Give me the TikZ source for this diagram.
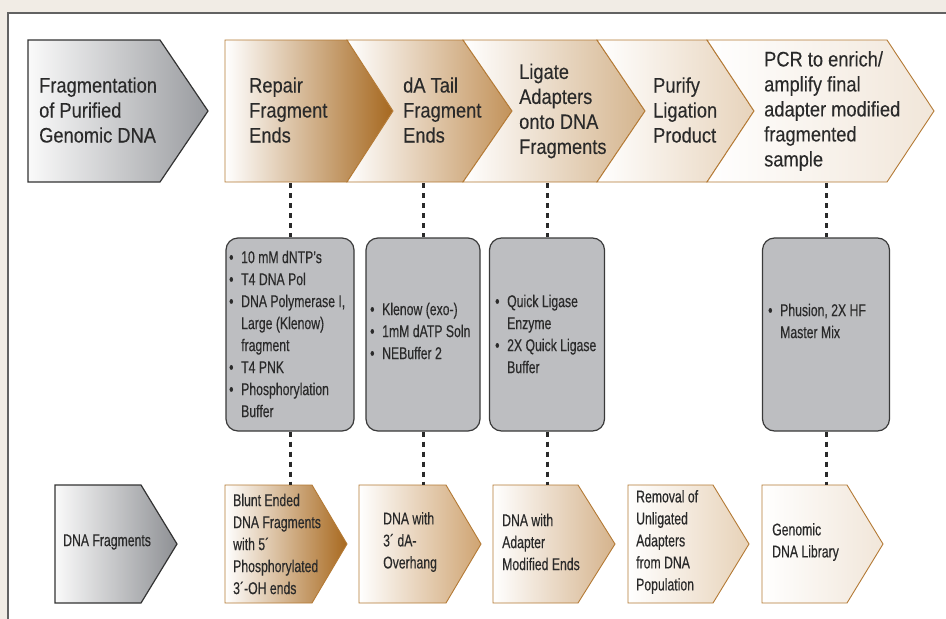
\documentclass[tikz,border=0pt]{standalone}
\usepackage{fontspec}
\setmainfont{Liberation Sans}
\newfontfamily\topfont[FakeStretch=0.87,FakeBold=0.15]{Liberation Sans}
\newfontfamily\smlfont[FakeStretch=0.72,FakeBold=0.3]{Liberation Sans}
\definecolor{bgbeige}{HTML}{F1ECE5}
\definecolor{framegray}{HTML}{626262}
\definecolor{chevline}{HTML}{B47A35}
\definecolor{gchevline}{HTML}{333333}
\definecolor{txt}{HTML}{2A2A2A}
\definecolor{boxfill}{HTML}{BDBEC1}
\definecolor{boxline}{HTML}{3A3A3A}
\definecolor{grayend}{HTML}{999B9F}
\definecolor{grayendb}{HTML}{8E9094}
\definecolor{cA}{HTML}{A6681F}
\definecolor{cB}{HTML}{C2925A}
\definecolor{cC}{HTML}{D4B48D}
\definecolor{cD}{HTML}{E7D3BB}
\definecolor{cE}{HTML}{F1E6D9}
\definecolor{dA}{HTML}{A8691F}
\definecolor{dB}{HTML}{CFA472}
\definecolor{dC}{HTML}{D5B38C}
\definecolor{dD}{HTML}{E7D2B8}
\definecolor{dE}{HTML}{F1E6D9}
\newcommand{\bul}{\makebox[12pt][l]{\textbullet}}
\newcommand{\ind}{\hspace*{12pt}}
\begin{document}
\begin{tikzpicture}[x=1pt,y=-1pt,
  chev/.style={draw=chevline, line width=0.9pt},
  gchev/.style={draw=gchevline, line width=1.2pt},
  toptext/.style={anchor=west, align=left, inner sep=0pt, text=txt,
    font=\topfont\fontsize{21}{25}\selectfont},
  smltext/.style={anchor=west, align=left, inner sep=0pt, text=txt,
    font=\smlfont\fontsize{17}{22}\selectfont},
  gbox/.style={draw=boxline, fill=boxfill, rounded corners=12pt, line width=1.2pt,
    minimum height=193pt, inner sep=0pt},
  conn/.style={draw=txt, line width=3pt, dash pattern=on 5pt off 5pt}]
\useasboundingbox (0,0) rectangle (946,619);
% frame
\fill[bgbeige] (0,0) rectangle (946,619);
\fill[white] (8,13) rectangle (946,619);
\draw[framegray, line width=2pt] (8,619) -- (8,13) -- (946,13);

% ---------- top row chevrons ----------
\draw[gchev, left color=white!96!gray, right color=grayend]
  (28,40) -- (160,40) -- (208,111) -- (160,182) -- (28,182) -- cycle;
\draw[chev, left color=white, right color=cA]
  (225,40) -- (347,40) -- (393,111) -- (347,182) -- (225,182) -- cycle;
\draw[chev, left color=white, right color=cB]
  (347,40) -- (463,40) -- (512,111) -- (463,182) -- (347,182) -- (393,111) -- cycle;
\draw[chev, left color=white, right color=cC]
  (463,40) -- (597,40) -- (645,111) -- (597,182) -- (463,182) -- (512,111) -- cycle;
\draw[chev, left color=white, right color=cD]
  (597,40) -- (707,40) -- (754,111) -- (707,182) -- (597,182) -- (645,111) -- cycle;
\draw[chev, left color=white, right color=cE]
  (707,40) -- (887,40) -- (934,111) -- (887,182) -- (707,182) -- (754,111) -- cycle;

\node[toptext] (frag) at (39,110) {Fragmentation\\of Purified\\Genomic DNA};
\node[toptext] (repair) at (249,110) {Repair\\Fragment\\Ends};
\node[toptext] (datail) at (403,110) {dA Tail\\Fragment\\Ends};
\node[toptext] (ligate) at (519,111) {Ligate\\Adapters\\onto DNA\\Fragments};
\node[toptext] (purify) at (653,110) {Purify\\Ligation\\Product};
\node[toptext] (pcr) at (764,111) {PCR to enrich/\\amplify final\\adapter modified\\fragmented\\sample};

\coordinate (t1) at (290,183);
\coordinate (t2) at (423,183);
\coordinate (t3) at (547,183);
\coordinate (t4) at (826,183);

% ---------- reagent boxes ----------
\node[gbox, minimum width=128pt] (box1) at (290,334.5) {};
\node[gbox, minimum width=114pt] (box2) at (423,334.5) {};
\node[gbox, minimum width=115pt] (box3) at (547,334.5) {};
\node[gbox, minimum width=127pt] (box4) at (826,334.5) {};

\node[smltext] (txt1) at (229,334) {\bul 10 mM dNTP’s\\\bul T4 DNA Pol\\\bul DNA Polymerase I,\\\ind Large (Klenow)\\\ind fragment\\\bul T4 PNK\\\bul Phosphorylation\\\ind Buffer};
\node[smltext] (txt2) at (370,331) {\bul Klenow (exo-)\\\bul 1mM dATP Soln\\\bul NEBuffer 2};
\node[smltext] (txt3) at (495,334) {\bul Quick Ligase\\\ind Enzyme\\\bul 2X Quick Ligase\\\ind Buffer};
\node[smltext] (txt4) at (768,321) {\bul Phusion, 2X HF\\\ind Master Mix};

% ---------- bottom row chevrons ----------
\draw[gchev, left color=white!96!gray, right color=grayendb]
  (55,485) -- (141,485) -- (177,544) -- (141,603) -- (55,603) -- cycle;
\draw[chev, left color=white, right color=dA]
  (225,485) -- (312,485) -- (347,544) -- (312,603) -- (225,603) -- cycle;
\draw[chev, left color=white, right color=dB]
  (359,485) -- (446,485) -- (481,544) -- (446,603) -- (359,603) -- cycle;
\draw[chev, left color=white, right color=dC]
  (493,485) -- (578,485) -- (615,544) -- (578,603) -- (493,603) -- cycle;
\draw[chev, left color=white, right color=dD]
  (628,485) -- (713,485) -- (749,544) -- (713,603) -- (628,603) -- cycle;
\draw[chev, left color=white, right color=dE]
  (762,485) -- (847,485) -- (883,544) -- (847,603) -- (762,603) -- cycle;

\coordinate (b1) at (290,485);
\coordinate (b2) at (423,485);
\coordinate (b3) at (547,485);
\coordinate (b4) at (826,485);

\node[smltext] (dnafrag) at (63,542) {DNA Fragments};
\node[smltext] (blunt) at (233,544) {Blunt Ended\\DNA Fragments\\with 5´\\Phosphorylated\\3´-OH ends};
\node[smltext] (overhang) at (383,542) {DNA with\\3´ dA-\\Overhang};
\node[smltext] (adapt) at (502,542) {DNA with\\Adapter\\Modified Ends};
\node[smltext] (removal) at (636,542) {Removal of\\Unligated\\Adapters\\from DNA\\Population};
\node[smltext] (library) at (772,542) {Genomic\\DNA Library};

% ---------- connectors ----------
\draw[conn] (t1) -- (box1.north);
\draw[conn] (t2) -- (box2.north);
\draw[conn] (t3) -- (box3.north);
\draw[conn] (t4) -- (box4.north);
\draw[conn] (box1.south) -- (b1);
\draw[conn] (box2.south) -- (b2);
\draw[conn] (box3.south) -- (b3);
\draw[conn] (box4.south) -- (b4);
\end{tikzpicture}
\end{document}
